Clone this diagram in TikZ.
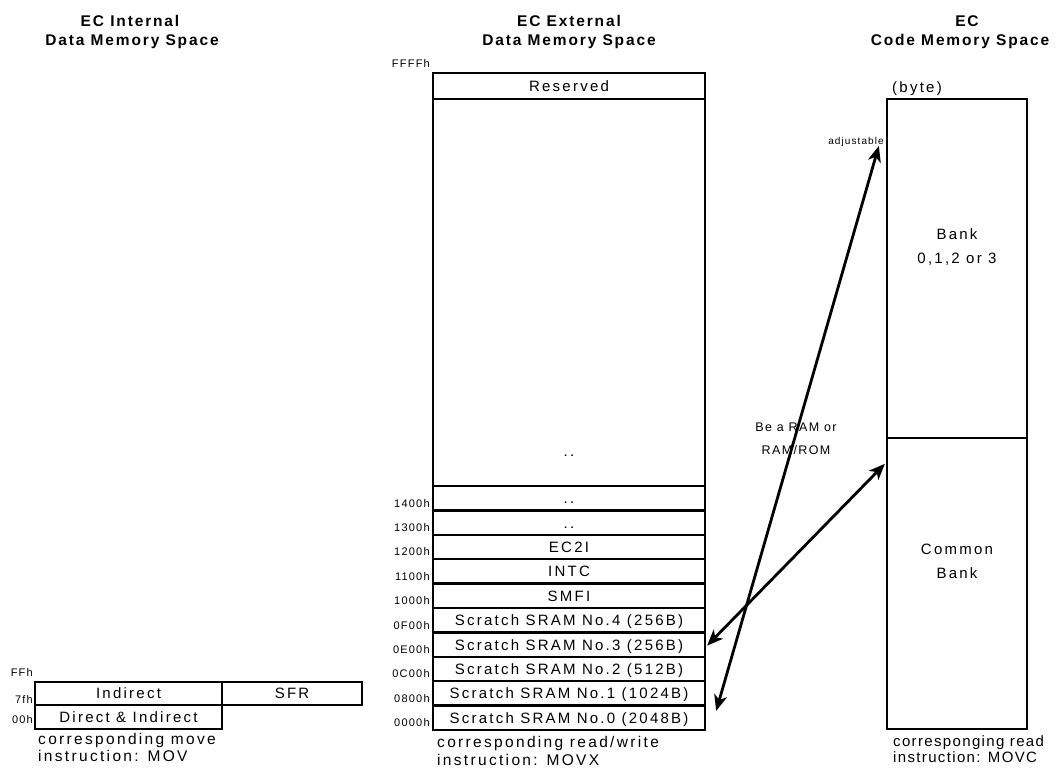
\documentclass[tikz,border=0pt]{standalone}
\usepackage{fontspec}
\setmainfont{Liberation Sans}[LetterSpace=15]
\newfontfamily\titlefont{Liberation Sans}[LetterSpace=12]
\newfontfamily\smallfont{Liberation Sans}[LetterSpace=11]
\newfontfamily\tightfont{Liberation Sans}[LetterSpace=9]
\usetikzlibrary{arrows.meta,calc}
\newcommand{\fsz}[1]{\fontsize{#1}{#1}\selectfont}
\begin{document}
\begin{tikzpicture}[x=1pt,y=-1pt,
  box/.style={draw, line width=2.3pt, inner sep=0pt, text height=10.8pt, text depth=0pt, font=\fsz{15}},
  mrow/.style={box, minimum width=272pt, minimum height=24.4pt},
  addr/.style={inner sep=0pt, font=\smallfont\fsz{11}, anchor=base east},
  title/.style={inner sep=0pt, font=\titlefont\bfseries\fsz{15.5}, anchor=base},
  note/.style={inner sep=0pt, font=\fsz{15.5}, anchor=base west},
  ctext/.style={inner sep=0pt, font=\fsz{15}, anchor=base},
  arr/.style={line width=2.8pt, {Stealth[length=16pt,width=13pt,inset=4.5pt]}-{Stealth[length=16pt,width=13pt,inset=4.5pt]}}
]
\useasboundingbox (0,0) rectangle (1058,769);

% titles
\node[title] (t1a) at (130,26) {EC Internal};
\node[title] (t1b) at (132,45) {Data Memory Space};
\node[title] (t2a) at (569,26) {EC External};
\node[title] (t2b) at (569,45) {Data Memory Space};
\node[title] (t3a) at (967,26) {EC};
\node[title] (t3b) at (960,45) {Code Memory Space};

% internal data memory
\node[box, minimum width=187pt, minimum height=23pt] (ind) at (128.5,693.5) {Indirect};
\node[box, minimum width=140pt, minimum height=23pt] (sfr) at (292,693.5) {SFR};
\node[box, minimum width=187pt, minimum height=24pt] (dind) at (128.5,717) {Direct \& Indirect};
\node[addr] (aff) at (33,676.6) {FFh};
\node[addr] (a7f) at (33,703.6) {7fh};
\node[addr] (a00) at (33,723.6) {00h};
\node[note] (l1) at (38,744) {corresponding move};
\node[note] (l2) at (38,761) {instruction: MOV};

% external data memory
\node[addr] (affff) at (430,67.6) {FFFFh};
\node[box, minimum width=272pt, minimum height=26pt] (res) at (569,86) {Reserved};
\node[box, minimum width=272pt, minimum height=387pt] (big) at (569,292.5) {};
\node[inner sep=0pt, font=\fsz{15}] (bigdots) at (569,456) {..};
\foreach \i/\txt/\ad in {0/{..}/1400h, 1/{..}/1300h, 2/EC2I/1200h, 3/INTC/1100h, 4/SMFI/1000h,
  5/{Scratch SRAM No.4 (256B)}/0F00h, 6/{Scratch SRAM No.3 (256B)}/0E00h,
  7/{Scratch SRAM No.2 (512B)}/0C00h, 8/{Scratch SRAM No.1 (1024B)}/0800h,
  9/{Scratch SRAM No.0 (2048B)}/0000h}{
  \node[mrow] (r\i) at (569,{498.2+24.4*\i}) {\txt};
  \node[addr] (a\i) at ($(r\i.south west)+(-2,-4.4)$) {\ad};
}
\node[note] (m1) at (437,747) {corresponding read/write};
\node[note] (m2) at (437,765) {instruction: MOVX};

% code memory
\node[inner sep=0pt, font=\fsz{15}, anchor=base west] (byte) at (892,92) {(byte)};
\node[box, minimum width=140pt, minimum height=339pt] (bank) at (957,268.5) {};
\node[box, minimum width=140pt, minimum height=291pt] (common) at (957,583.5) {};
\node[ctext] (bk1) at (957,239) {Bank};
\node[ctext] (bk2) at (957,263) {0,1,2 or 3};
\node[ctext] (cb1) at (957,554) {Common};
\node[ctext] (cb2) at (957,578) {Bank};
\node[inner sep=0pt, font=\smallfont\fsz{10}, anchor=base east] (adj) at (884,144) {adjustable};
\node[ctext, font=\smallfont\fsz{12.5}] (ram1) at (796,431) {Be a RAM or};
\node[ctext, font=\smallfont\fsz{12.5}] (ram2) at (796,454) {RAM/ROM};
\node[note, font=\tightfont\fsz{15}] (c1) at (893,746) {corresponging read};
\node[note, font=\tightfont\fsz{15}] (c2) at (893,762) {instruction: MOVC};

% arrows
\coordinate (e1a) at ($(r9.north east)+(10,6.5)$);
\coordinate (e1b) at ($(bank.north west)+(-7,48)$);
\coordinate (e2a) at ($(r6.east)+(1,1)$);
\coordinate (e2b) at ($(common.north west)+(-1,27)$);
\draw[arr] (e1a) -- (e1b);
\draw[arr] (e2a) -- (e2b);
\end{tikzpicture}
\end{document}
